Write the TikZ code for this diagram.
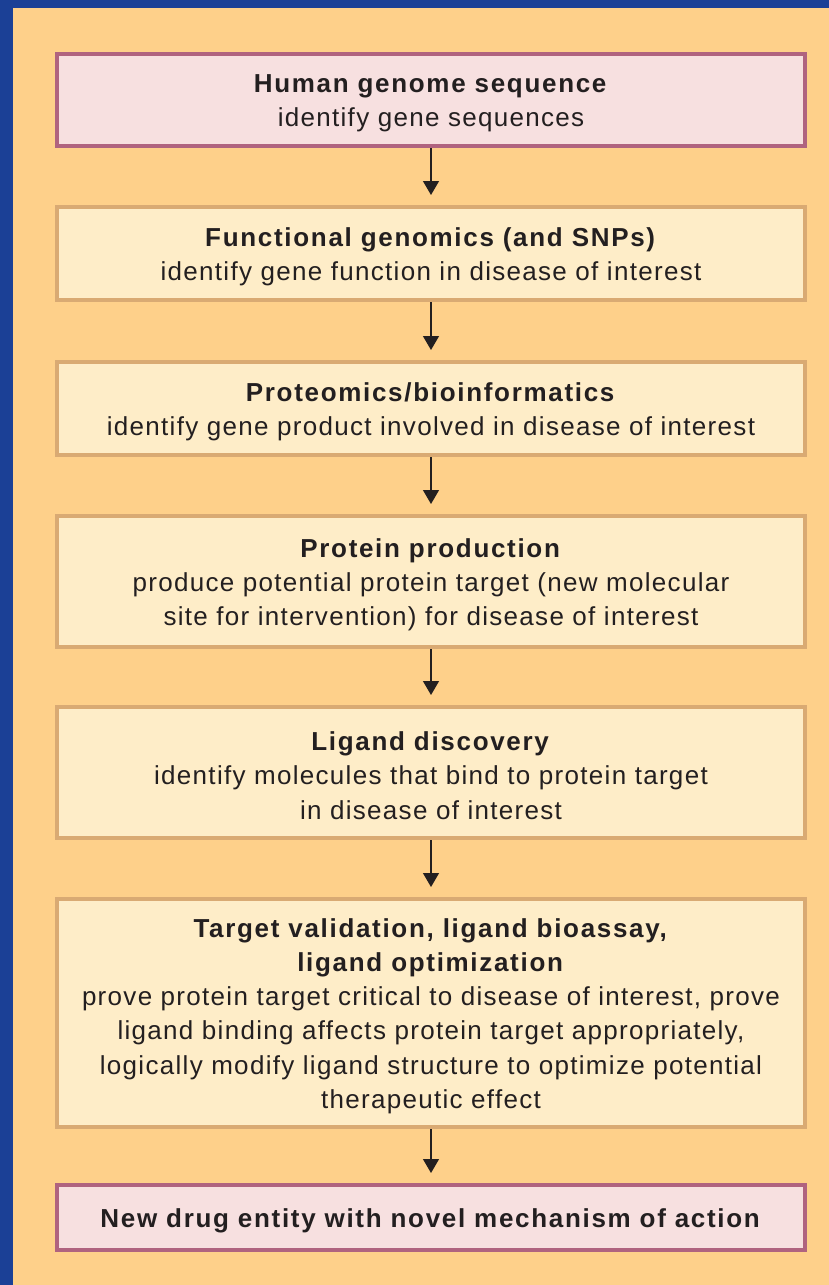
\documentclass[tikz,border=0pt]{standalone}
\usepackage{fontspec}
\setmainfont{Liberation Sans}[LetterSpace=5,BoldFeatures={LetterSpace=6.5}]
\usetikzlibrary{arrows.meta}
\definecolor{pageblue}{RGB}{27,64,150}
\definecolor{pageorange}{RGB}{254,208,138}
\definecolor{boxfill}{RGB}{254,237,200}
\definecolor{boxline}{RGB}{217,170,115}
\definecolor{pinkfill}{RGB}{247,224,224}
\definecolor{pinkline}{RGB}{176,99,127}
\definecolor{ink}{RGB}{35,31,32}
\newcommand{\stagehead}[1]{\rule{0pt}{25pt}\textbf{#1}}
\tikzset{
  stagebox/.style={draw=boxline,fill=boxfill,line width=4pt,minimum width=748pt,
    inner sep=0pt,align=center,text=ink,font=\fontsize{26}{34.3}\selectfont},
  endbox/.style={stagebox,draw=pinkline,fill=pinkfill},
  flow/.style={->,draw=ink,line width=1.3pt}
}
\begin{document}
\begin{tikzpicture}[x=1pt,y=1pt,>={Triangle[length=14pt,width=16pt]}]
		\fill[pageblue] (0,0) rectangle (829,-1285);
		\useasboundingbox (0,0) rectangle (829,-1285);
		\fill[pageorange] (13,-8) rectangle (829,-1285);
		% stages
		\node[endbox,minimum height=92pt] (genome) at (431,-100)
			{\stagehead{Human genome sequence}\\identify gene sequences};
		\node[stagebox,minimum height=93pt] (functional) at (431,-253.5)
			{\stagehead{Functional genomics (and SNPs)}\\identify gene function in disease of interest};
		\node[stagebox,minimum height=93pt] (proteomics) at (431,-408.5)
			{\stagehead{Proteomics/bioinformatics}\\identify gene product involved in disease of interest};
		\node[stagebox,minimum height=131pt] (production) at (431,-581.5)
			{\stagehead{Protein production}\\produce potential protein target (new molecular\\site for intervention) for disease of interest};
		\node[stagebox,minimum height=131pt] (ligand) at (431,-772.5)
			{\stagehead{Ligand discovery}\\identify molecules that bind to protein target\\in disease of interest};
		\node[stagebox,minimum height=228pt] (validation) at (431,-1013)
			{\stagehead{Target validation, ligand bioassay,}\\\textbf{ligand optimization}\\prove protein target critical to disease of interest, prove\\ligand binding affects protein target appropriately,\\logically modify ligand structure to optimize potential\\therapeutic effect};
		\node[endbox,minimum height=65pt] (drug) at (431,-1217.5)
			{\stagehead{New drug entity with novel mechanism of action}};
		% arrows
		\draw[flow] (genome.south) -- ([yshift=10pt]functional.north);
		\draw[flow] (functional.south) -- ([yshift=10pt]proteomics.north);
		\draw[flow] (proteomics.south) -- ([yshift=10pt]production.north);
		\draw[flow] (production.south) -- ([yshift=10pt]ligand.north);
		\draw[flow] (ligand.south) -- ([yshift=10pt]validation.north);
		\draw[flow] (validation.south) -- ([yshift=10pt]drug.north);
\end{tikzpicture}
\end{document}
